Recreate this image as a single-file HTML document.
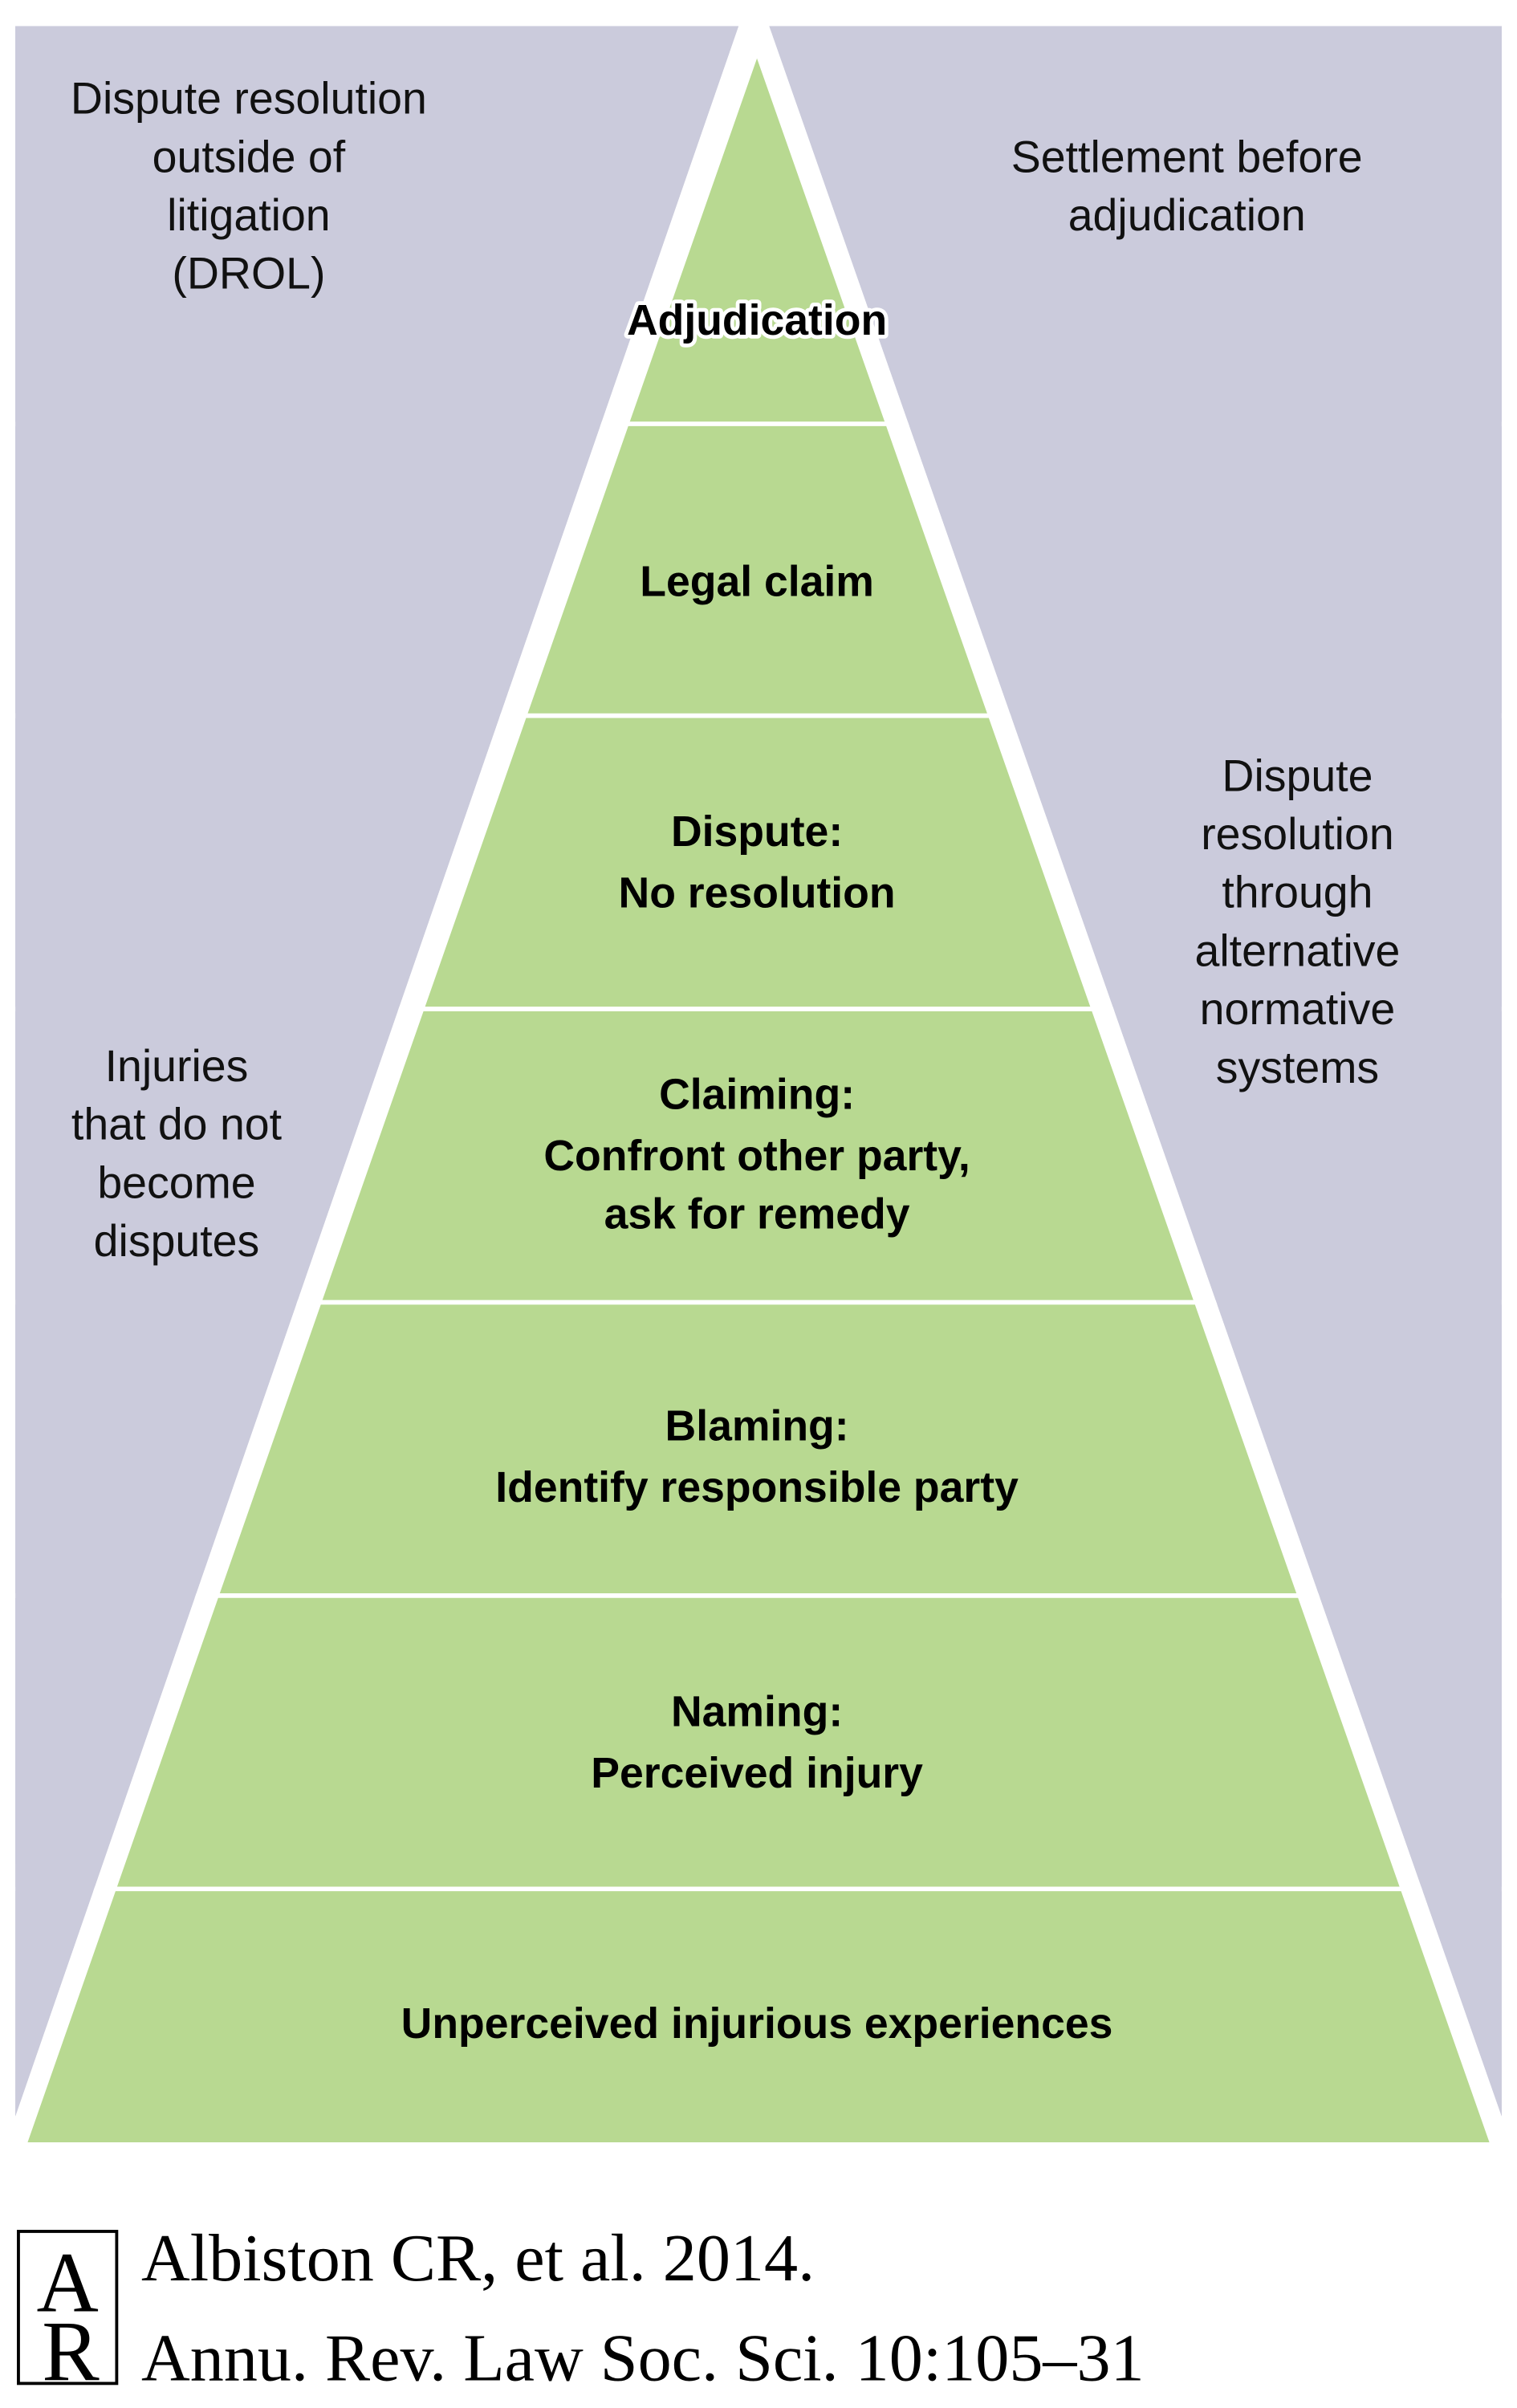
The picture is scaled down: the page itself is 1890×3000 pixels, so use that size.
<!DOCTYPE html>
<html><head><meta charset="utf-8"><style>html,body{margin:0;padding:0;background:#fff}svg{display:block}</style></head>
<body>
<svg width="1890" height="3000" viewBox="0 0 988 1568" preserveAspectRatio="none" xmlns="http://www.w3.org/2000/svg">
<rect width="988" height="1568" fill="#fff"/>
<polygon points="10,17 481,17 10,1378" fill="#cbcbdc"/>
<polygon points="501,17 978,17 978,1378" fill="#cbcbdc"/>
<polygon points="493,38 970,1395 18,1395" fill="#b8d991"/>
<g stroke="#fff" stroke-width="3">
<line x1="0" y1="276" x2="988" y2="276"/>
<line x1="0" y1="466" x2="988" y2="466"/>
<line x1="0" y1="657" x2="988" y2="657"/>
<line x1="0" y1="848" x2="988" y2="848"/>
<line x1="0" y1="1039" x2="988" y2="1039"/>
<line x1="0" y1="1230" x2="988" y2="1230"/>
</g>
<!-- re-mask the purple where lines cross it -->
<polygon points="10,17 481,17 10,1378" fill="#cbcbdc"/>
<polygon points="501,17 978,17 978,1378" fill="#cbcbdc"/>
<g font-family="Liberation Sans, sans-serif" font-weight="bold" font-size="28" text-anchor="middle" fill="#000">
<text x="493" y="218" stroke="#fff" stroke-width="5" paint-order="stroke" stroke-linejoin="round">Adjudication</text>
<text x="493" y="388">Legal claim</text>
<text x="493" y="551">Dispute:</text>
<text x="493" y="591">No resolution</text>
<text x="493" y="722">Claiming:</text>
<text x="493" y="762">Confront other party,</text>
<text x="493" y="800">ask for remedy</text>
<text x="493" y="938">Blaming:</text>
<text x="493" y="978">Identify responsible party</text>
<text x="493" y="1124">Naming:</text>
<text x="493" y="1164">Perceived injury</text>
<text x="493" y="1327">Unperceived injurious experiences</text>
</g>
<g font-family="Liberation Sans, sans-serif" font-size="29" text-anchor="middle" fill="#111">
<text x="162" y="74">Dispute resolution</text>
<text x="162" y="112">outside of</text>
<text x="162" y="150">litigation</text>
<text x="162" y="188">(DROL)</text>
<text x="773" y="112">Settlement before</text>
<text x="773" y="150">adjudication</text>
<text x="115" y="704">Injuries</text>
<text x="115" y="742">that do not</text>
<text x="115" y="780">become</text>
<text x="115" y="818">disputes</text>
<text x="845" y="515">Dispute</text>
<text x="845" y="553">resolution</text>
<text x="845" y="591">through</text>
<text x="845" y="629">alternative</text>
<text x="845" y="667">normative</text>
<text x="845" y="705">systems</text>
</g>
<rect x="12" y="1453" width="64" height="99" fill="none" stroke="#000" stroke-width="2"/>
<text x="44" y="1505" font-family="Liberation Serif, serif" font-size="56" text-anchor="middle">A</text>
<text x="46" y="1550" font-family="Liberation Serif, serif" font-size="56" text-anchor="middle">R</text>
<g font-family="Liberation Serif, serif" font-size="44" fill="#000">
<text x="92" y="1485">Albiston CR, et al. 2014.</text>
<text x="92" y="1550">Annu. Rev. Law Soc. Sci. 10:105–31</text>
</g>
</svg>
</body></html>
